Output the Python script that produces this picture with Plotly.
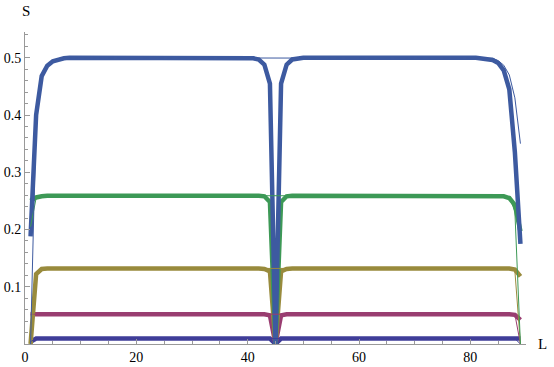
import plotly.graph_objects as go

# ---- data ----
blue_L = [1, 2, 3, 4, 5, 6, 7, 8, 40, 41, 42, 43, 44, 45, 46, 47, 48, 49, 50, 81, 82, 83, 84, 85, 86, 87, 88, 89]
blue_S = [0.188, 0.40, 0.468, 0.486, 0.494, 0.497, 0.499, 0.5, 0.5, 0.499, 0.497, 0.488, 0.455, 0.0, 0.455, 0.488, 0.497, 0.499, 0.5,
          0.5, 0.499, 0.498, 0.496, 0.491, 0.478, 0.445, 0.335, 0.175]
blue_thin_L = [1, 2, 3, 4, 5, 6, 7, 8, 83, 84, 85, 86, 87, 88, 89]
blue_thin_S = [0.0, 0.40, 0.468, 0.486, 0.494, 0.497, 0.499, 0.5, 0.5, 0.499, 0.495, 0.487, 0.47, 0.43, 0.35]

green_L = [1, 2, 3, 4, 42, 43, 44, 45, 46, 47, 48, 85, 86, 87, 88, 89]
green_S = [0.25, 0.256, 0.258, 0.259, 0.259, 0.258, 0.248, 0.0, 0.248, 0.258, 0.259, 0.259, 0.258, 0.255, 0.243, 0.197]
green_thin_L = [1, 2, 3, 4, 86, 87, 88, 89]
green_thin_S = [0.205, 0.255, 0.258, 0.259, 0.259, 0.256, 0.232, 0.0]

olive_L = [1, 2, 3, 4, 42, 43, 44, 45, 46, 47, 48, 86, 87, 88, 89]
olive_S = [0.0, 0.122, 0.131, 0.132, 0.132, 0.131, 0.127, 0.0, 0.127, 0.131, 0.132, 0.132, 0.132, 0.13, 0.118]
olive_thin_L = [1, 2, 3, 4, 87, 88, 89]
olive_thin_S = [0.0, 0.122, 0.131, 0.132, 0.132, 0.128, 0.0]

pink_L = [1, 43, 44, 45, 46, 47, 87, 88, 89]
pink_S = [0.052, 0.052, 0.05, 0.0, 0.05, 0.052, 0.052, 0.051, 0.042]
pink_thin_L = [1, 88, 89]
pink_thin_S = [0.052, 0.052, 0.0]

navy_L = [1, 2, 44, 45, 46, 89]
navy_S = [0.004, 0.0095, 0.0095, 0.0, 0.0095, 0.0095]
navy_thin_L = [1, 2, 88, 89]
navy_thin_S = [0.004, 0.0095, 0.0095, 0.0]

x_ticks = [0, 20, 40, 60, 80]
y_ticks = [0.1, 0.2, 0.3, 0.4, 0.5]
y_tick_text = ["0.1", "0.2", "0.3", "0.4", "0.5"]

# ---- styling ----
NAVY = "rgb(63,61,153)"
PINK = "rgb(153,61,113)"
OLIVE = "rgb(153,139,61)"
GREEN = "rgb(61,153,86)"
BLUE = "rgb(61,90,160)"
FONT = "Liberation Serif"
THICK = 4.5
THIN = 1.0

fig = go.Figure()
thick = [(navy_L, navy_S, NAVY), (pink_L, pink_S, PINK), (olive_L, olive_S, OLIVE),
         (green_L, green_S, GREEN), (blue_L, blue_S, BLUE)]
thin = [(navy_thin_L, navy_thin_S, NAVY), (pink_thin_L, pink_thin_S, PINK), (olive_thin_L, olive_thin_S, OLIVE),
        (green_thin_L, green_thin_S, GREEN), (blue_thin_L, blue_thin_S, BLUE)]
for xs, ys, c in thick:
    fig.add_trace(go.Scatter(x=xs, y=ys, mode="lines", line=dict(color=c, width=THICK), hoverinfo="skip"))
for xs, ys, c in thin:
    fig.add_trace(go.Scatter(x=xs, y=ys, mode="lines", line=dict(color=c, width=THIN), hoverinfo="skip"))

axis_common = dict(
    showgrid=False, zeroline=False, showline=True, linecolor="#999999", linewidth=1,
    ticks="inside", tickcolor="#999999", tickwidth=1, automargin=False,
    tickfont=dict(family=FONT, size=14, color="black"),
)
fig.update_xaxes(range=[0, 90], tickmode="array", tickvals=x_ticks, ticklen=5,
                 minor=dict(dtick=5, tick0=0, ticklen=3, ticks="inside", tickcolor="#999999", showgrid=False),
                 **axis_common)
fig.update_yaxes(range=[0, 0.545], tickmode="array", tickvals=y_ticks, ticktext=y_tick_text, ticklen=5,
                 minor=dict(dtick=0.02, tick0=0, ticklen=3, ticks="inside", tickcolor="#999999", showgrid=False),
                 **axis_common)

fig.add_annotation(text="S", xref="paper", yref="paper", x=0.002, y=1.067, showarrow=False,
                   font=dict(family=FONT, size=15, color="black"), xanchor="center", yanchor="middle")
fig.add_annotation(text="L", xref="paper", yref="paper", x=1.032, y=0.0, showarrow=False,
                   font=dict(family=FONT, size=15, color="black"), xanchor="center", yanchor="middle")

fig.update_layout(width=554, height=367, margin=dict(l=25, r=28, t=32, b=23),
                  paper_bgcolor="white", plot_bgcolor="white", showlegend=False,
                  font=dict(family=FONT))
fig.write_html("out.html", config={"displayModeBar": False},
               post_script="document.body.style.margin='0';")
